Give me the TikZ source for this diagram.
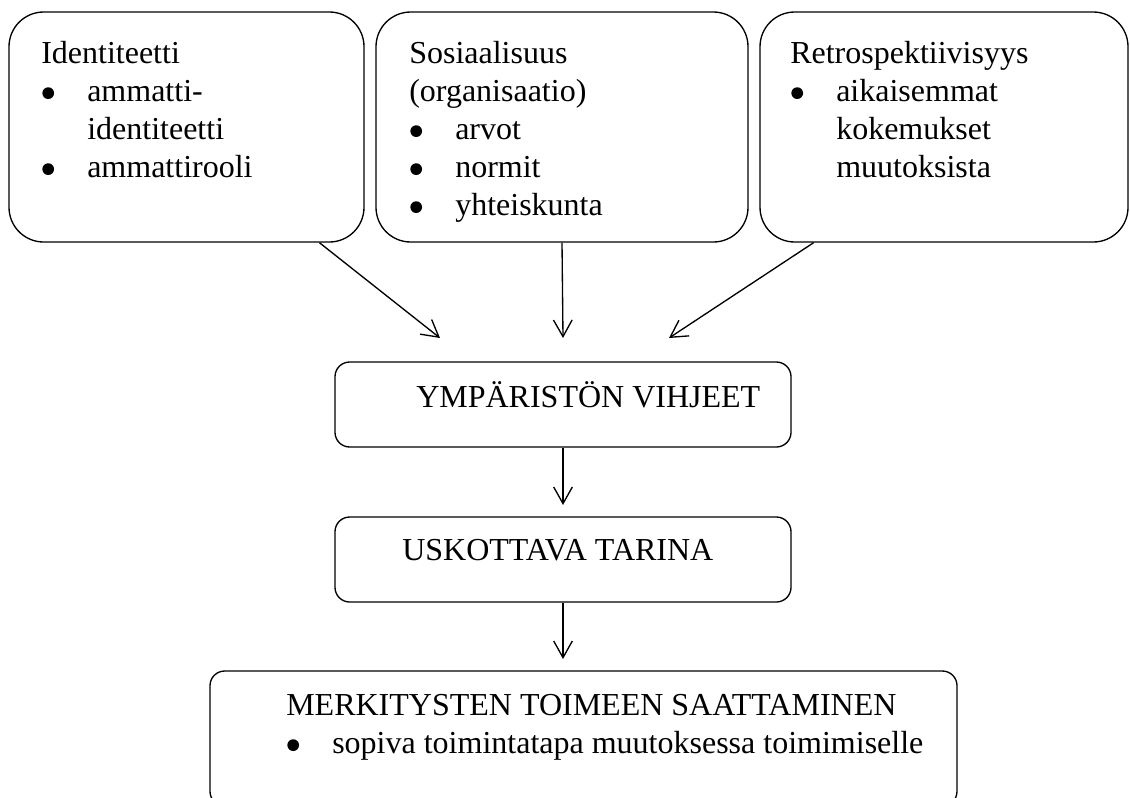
\documentclass[tikz,border=0pt]{standalone}
\usepackage{fontspec}
\setmainfont{Liberation Serif}
\usetikzlibrary{arrows.meta,calc}
\newcommand\mybul{\makebox[34.5pt][l]{\hspace{0.8pt}\raisebox{1.5pt}{\tikz\fill[black] (0pt,0pt) circle[radius=4.4pt];}}}
\newcommand\myind{\hspace*{34.5pt}}
\newcommand\mylines[1]{\begin{tabular}[t]{@{}l@{}}#1\end{tabular}}
\begin{document}
\begin{tikzpicture}[x=0.75pt,y=-0.75pt,
  bigbox/.style={draw,line width=1pt,rounded corners=26pt,inner sep=0pt,minimum height=172.5pt},
  smallbox/.style={draw,line width=1pt,rounded corners=11pt,inner sep=0pt},
  txt/.style={anchor=base west,inner sep=0pt,font=\fontsize{24pt}{28.5pt}\selectfont},
  conn/.style={line width=1pt,-{Straight Barb[length=12.5pt,width=14pt]}}]
\useasboundingbox (0,0) rectangle (1130,797);
\clip (0,0) rectangle (1130,797);
% top boxes
\node[bigbox,minimum width=266.25pt] (b1) at (186.5,127) {};
\node[bigbox,minimum width=279pt] (b2) at (562,127) {};
\node[bigbox,minimum width=276pt] (b3) at (944,127) {};
% middle and bottom boxes
\node[smallbox,minimum width=342pt,minimum height=63.75pt] (ymp) at (563,404.5) {};
\node[smallbox,minimum width=342pt,minimum height=63.75pt] (usk) at (563,559.5) {};
\node[smallbox,minimum width=560.25pt,minimum height=101.25pt] (merk) at (583.5,738.5) {};
% texts
\node[txt] (t1) at (41,63) {\mylines{Identiteetti\\ \mybul ammatti-\\ \myind identiteetti\\ \mybul ammattirooli}};
\node[txt] (t2) at (409,63) {\mylines{Sosiaalisuus\\ (organisaatio)\\ \mybul arvot\\ \mybul normit\\ \mybul yhteiskunta}};
\node[txt] (t3) at (790,63) {\mylines{Retrospektiivisyys\\ \mybul aikaisemmat\\ \myind kokemukset\\ \myind muutoksista}};
\node[txt] (tymp) at (416,407) {YMPÄRISTÖN VIHJEET};
\node[txt] (tusk) at (402,560) {USKOTTAVA TARINA};
\node[txt] (tmerk) at (286,715) {\mylines{MERKITYSTEN TOIMEEN SAATTAMINEN\\ \mybul sopiva toimintatapa muutoksessa toimimiselle}};
% arrow targets
\coordinate (e1) at (440,338);
\coordinate (e2) at (563,338);
\coordinate (e3) at (669,338);
\coordinate (e4) at (563,505);
\coordinate (e5) at (563,659);
% connectors
\draw[conn] ($(b1.south west)!0.873!(b1.south east)$) -- (e1);
\draw[conn] (b2.south) -- (e2);
\draw[conn] ($(b3.south west)!0.147!(b3.south east)$) -- (e3);
\draw[conn] (ymp.south) -- (e4);
\draw[conn] (usk.south) -- (e5);
\end{tikzpicture}
\end{document}
